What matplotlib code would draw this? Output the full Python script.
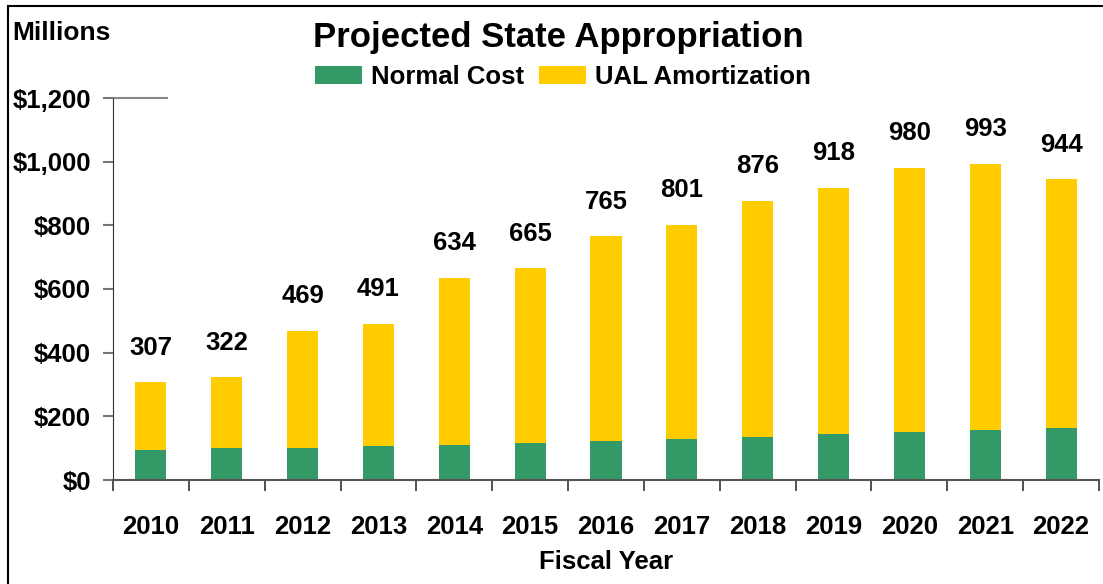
import matplotlib
matplotlib.use("Agg")
import matplotlib.pyplot as plt
import matplotlib.patches as mpatches
import numpy as np

years = ["2010", "2011", "2012", "2013", "2014", "2015", "2016",
         "2017", "2018", "2019", "2020", "2021", "2022"]
totals = [307, 322, 469, 491, 634, 665, 765, 801, 876, 918, 980, 993, 944]
normal_cost = [94, 100, 100, 107, 110, 116, 122, 128, 135, 145, 151, 157, 163]
ual_amort = [t - n for t, n in zip(totals, normal_cost)]

GREEN = "#339966"
YELLOW = "#FFCC00"

plt.rcParams["font.family"] = ["Liberation Sans", "DejaVu Sans"]
plt.rcParams["font.weight"] = "bold"

fig = plt.figure(figsize=(11.03, 5.84), dpi=100)
ax = fig.add_axes([113/1103, 1-480/584, 986/1103, 382/584])

x = np.arange(len(years))
w = 0.41
ax.bar(x, normal_cost, w, color=GREEN, label="Normal Cost", zorder=2)
ax.bar(x, ual_amort, w, bottom=normal_cost, color=YELLOW, label="UAL Amortization", zorder=2)

for xi, t in zip(x, totals):
    ax.annotate(str(t), (xi, t), xytext=(0, 25), textcoords="offset points",
                ha="center", va="center", fontsize=18.5, fontweight="bold")

ax.set_xlim(-0.5, len(years) - 0.5)
ax.set_ylim(0, 1200)
ax.set_yticks(range(0, 1201, 200))
ax.set_yticklabels(["$" + format(v, ",") for v in range(0, 1201, 200)],
                   fontsize=18.5, fontweight="bold")
ax.tick_params(axis="y", direction="out", length=7, width=1.5, color="#777777", pad=9)

ax.set_xticks(x)
ax.set_xticklabels(years, fontsize=18.5, fontweight="bold")
ax.set_xticks(np.arange(-0.5, len(years), 1), minor=True)
ax.tick_params(axis="x", which="major", length=0, pad=25)
ax.tick_params(axis="x", which="minor", direction="out", length=8, width=1.2, color="#333333")

ax.spines["top"].set_visible(False)
ax.spines["right"].set_visible(False)
ax.spines["left"].set_color("#333333")
ax.spines["bottom"].set_color("#555555")
ax.spines["bottom"].set_linewidth(1.5)
ax.axhline(1200, xmin=0, xmax=54/986, color="#888888", lw=1.5, clip_on=False)

ax.set_xlabel("Fiscal Year", fontsize=18.5, fontweight="bold", labelpad=8)

fig.text(12/1103, 1-33/584, "Millions", fontsize=19, fontweight="bold", va="center", ha="left")
fig.text(558/1103, 1-38/584, "Projected State Appropriation", fontsize=25,
         fontweight="bold", ha="center", va="center")

fig.legend(loc="center", bbox_to_anchor=(563/1103, 1-77/584), ncol=2, frameon=False,
           prop={"size": 18.5, "weight": "bold"}, handlelength=1.85, handleheight=0.68,
           handletextpad=0.35, columnspacing=0.55, borderaxespad=0)

fig.add_artist(mpatches.Rectangle((8/1103, -0.02), 1.0, 1-6/584+0.02,
                                  transform=fig.transFigure, fill=False,
                                  lw=1.5, edgecolor="black"))

fig.savefig("out.png", dpi=100)
